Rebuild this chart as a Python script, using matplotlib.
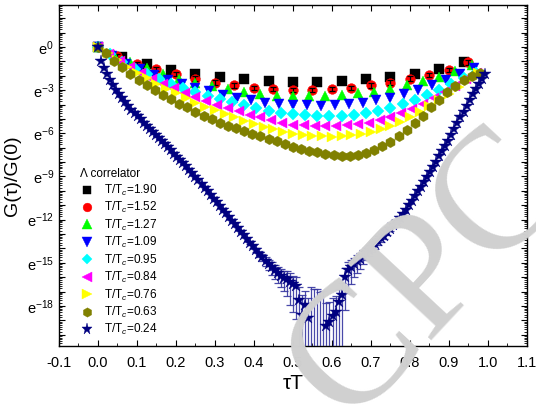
import numpy as np
import matplotlib
matplotlib.use("Agg")
import matplotlib.pyplot as plt

plt.rcParams['font.family'] = ['Liberation Sans', 'DejaVu Sans']
plt.rcParams['mathtext.fontset'] = 'custom'
plt.rcParams['mathtext.rm'] = 'Liberation Sans'
plt.rcParams['mathtext.it'] = 'Liberation Sans:italic'

# ---- data: ln[G(tau)/G(0)] vs tau*T ----
labels = ["T/T$_c$=1.90", "T/T$_c$=1.52", "T/T$_c$=1.27", "T/T$_c$=1.09", "T/T$_c$=0.95",
          "T/T$_c$=0.84", "T/T$_c$=0.76", "T/T$_c$=0.63", "T/T$_c$=0.24"]
ntau = [16, 20, 24, 28, 32, 36, 40, 48, 128]

ln_190 = [0, -0.72, -1.18, -1.58, -1.88, -2.10, -2.26, -2.37, -2.44, -2.43, -2.36, -2.26, -2.08, -1.85, -1.51, -1.06]
ln_152 = [0, -0.65, -1.18, -1.52, -1.86, -2.20, -2.47, -2.67, -2.83, -2.90, -2.97, -2.97, -2.92, -2.83, -2.67,
          -2.47, -2.20, -1.97, -1.61, -1.07]
err_152 = [0, 0.15, 0.15, 0.15, 0.15, 0.15, 0.15, 0.15, 0.15, 0.15, 0.15, 0.15, 0.15, 0.15, 0.15, 0.15, 0.15,
           0.15, 0.15, 0.15]
ln_127 = [0, -0.56, -1.02, -1.47, -1.88, -2.22, -2.49, -2.72, -2.94, -3.12, -3.28, -3.39, -3.44, -3.44, -3.42,
          -3.31, -3.21, -3.10, -2.92, -2.65, -2.36, -2.06, -1.68, -1.23]
ln_109 = [0, -0.60, -1.15, -1.55, -1.92, -2.28, -2.58, -2.82, -3.08, -3.31, -3.52, -3.72, -3.86, -3.96, -4.02,
          -4.06, -4.10, -4.06, -3.99, -3.88, -3.72, -3.54, -3.27, -2.97, -2.65, -2.29, -1.90, -1.45]
ln_095 = [0, -0.50, -1.05, -1.50, -1.90, -2.25, -2.55, -2.85, -3.12, -3.38, -3.62, -3.85, -4.05, -4.25, -4.42,
          -4.56, -4.67, -4.73, -4.78, -4.80, -4.78, -4.73, -4.62, -4.46, -4.23, -3.99, -3.67, -3.33, -2.97,
          -2.58, -2.19, -1.79]
ln_084 = [0, -0.50, -0.97, -1.42, -1.82, -2.20, -2.55, -2.88, -3.18, -3.47, -3.74, -4.00, -4.25, -4.48, -4.70,
          -4.90, -5.08, -5.25, -5.41, -5.45, -5.48, -5.52, -5.48, -5.45, -5.37, -5.25, -5.07, -4.89, -4.62,
          -4.28, -3.94, -3.55, -3.15, -2.70, -2.24, -1.79]
ln_076 = [0, -0.45, -0.92, -1.37, -1.78, -2.17, -2.54, -2.90, -3.23, -3.55, -3.86, -4.14, -4.41, -4.66, -4.90,
          -5.12, -5.33, -5.53, -5.72, -5.89, -6.05, -6.12, -6.18, -6.22, -6.24, -6.20, -6.13, -6.02, -5.88,
          -5.72, -5.52, -5.24, -4.90, -4.50, -4.10, -3.68, -3.24, -2.76, -2.30, -1.80]
ln_063 = [0, -0.45, -0.95, -1.42, -1.86, -2.27, -2.65, -3.00, -3.33, -3.64, -3.93, -4.20, -4.55, -4.80, -5.03,
          -5.25, -5.46, -5.66, -5.85, -6.03, -6.20, -6.37, -6.54, -6.72, -6.92, -7.11, -7.22, -7.33, -7.44,
          -7.51, -7.56, -7.57, -7.48, -7.36, -7.14, -6.90, -6.60, -6.20, -5.80, -5.30, -4.78, -4.20, -3.67,
          -3.12, -2.68, -2.28, -2.02, -1.79]
ln_024 = [0, -0.95, -1.45, -1.90, -2.30, -2.66, -2.99, -3.29, -3.57, -3.84, -4.10, -4.35, -4.59, -4.82, -5.04,
          -5.26, -5.47, -5.69, -5.90, -6.12, -6.33, -6.54, -6.76, -6.97, -7.19, -7.41, -7.62, -7.84, -8.06,
          -8.28, -8.52, -8.77, -9.02, -9.27, -9.52, -9.78, -10.03, -10.28, -10.54, -10.79, -11.05, -11.30,
          -11.56, -11.81, -12.07, -12.32, -12.58, -12.83, -13.09, -13.34, -13.60, -13.85, -14.10, -14.36,
          -14.60, -14.85, -15.10, -15.30, -15.52, -15.70, -15.90, -16.05, -16.10, -16.30, -16.50, -16.60,
          -17.60, -18.60, -17.90, -18.80, -22.00, -22.50, -23.00, -23.00, -22.50, -19.40, -19.10, -18.70,
          -18.40, -17.70, -17.20, -16.00, -15.50, -15.30, -15.10, -14.90, -14.70, -14.50, -14.30, -14.10,
          -13.90, -13.70, -13.50, -13.30, -13.10, -12.87, -12.63, -12.40, -12.13, -11.87, -11.60, -11.30,
          -11.00, -10.70, -10.37, -10.03, -9.70, -9.37, -9.03, -8.70, -8.33, -7.97, -7.60, -7.23, -6.87,
          -6.50, -6.10, -5.70, -5.30, -4.90, -4.50, -4.10, -3.70, -3.30, -2.90, -2.55, -2.20, -1.85]
# relative errors dG/G of the T/Tc=0.24 data, for points 50..100
star_err_first = 50
star_relerr = [0.10, 0.12, 0.15, 0.20, 0.25, 0.30, 0.35, 0.40, 0.45, 0.50, 0.55, 0.60, 0.70, 0.80, 0.85,
               0.90, 1.5, 3.0, 1.5, 3.0, 200, 300, 500, 400, 250, 4.0, 3.0, 2.5, 2.0, 1.5, 1.2, 0.9,
               0.80, 0.70, 0.60, 0.55, 0.50, 0.45, 0.40, 0.35, 0.30, 0.28, 0.25, 0.22, 0.20, 0.18, 0.15,
               0.13, 0.12, 0.10, 0.10]

series = [ln_190, ln_152, ln_127, ln_109, ln_095, ln_084, ln_076, ln_063, ln_024]
colors = ['black', '#ff0000', '#00ff00', '#0000ff', '#00ffff', '#ff00ff', '#ffff00', '#808000', '#000080']
markers = ['s', 'o', '^', 'v', 'D', '<', '>', 'h', '*']
msizes = [6.5, 7, 7.5, 7.5, 6, 7.5, 7.5, 7.5, 9]

yticks_ln = [0, -3, -6, -9, -12, -15, -18]

fig = plt.figure(figsize=(5.36, 4.05), dpi=100)
ax = fig.add_axes([0.110, 0.1457, 0.873, 0.842])

handles = []
for i, (vals, nt) in enumerate(zip(series, ntau)):
    x = np.arange(len(vals)) / nt
    y = np.array(vals)
    if i == 8:
        k = np.arange(star_err_first, star_err_first + len(star_relerr))
        r = np.array(star_relerr)
        up = np.log1p(r)
        lo = np.where(r < 1, -np.log(np.clip(1 - r, 1e-9, None)), 40.0)
        ax.errorbar(x[k], y[k], yerr=[lo, up], fmt='none', ecolor='#3535a0', elinewidth=0.9,
                    capsize=3, capthick=0.9, alpha=0.9, zorder=3 + i * 0.1)
    h, = ax.plot(x, y, ls='none', marker=markers[i], ms=msizes[i], color=colors[i],
                 mec=colors[i], mew=0.3, zorder=3 + i * 0.1 + 0.05, label=labels[i])
    handles.append(h)
    if i == 1:
        ax.errorbar(x, y, yerr=err_152, fmt='none', ecolor='black', elinewidth=0.9, capsize=2.5,
                    capthick=0.9, zorder=3 + i * 0.1 + 0.06)

ax.set_xlim(-0.1, 1.1)
ax.set_ylim(-20.67, 2.49)
ax.set_xticks(np.round(np.arange(-0.1, 1.101, 0.1), 1))
ax.set_xticklabels([f"{v:.1f}" for v in np.arange(-0.1, 1.101, 0.1)])
ax.set_xticks(np.arange(-0.05, 1.1, 0.1), minor=True)
ax.set_yticks(np.arange(-20, 3, 1))
ax.set_yticklabels([f"e$^{{{n}}}$" if n in yticks_ln else "" for n in range(-20, 3)])
minor_y = []
for n in range(-21, 3):
    for m in [1.25, 1.5, 1.75, 2.0, 2.25, 2.5]:
        minor_y.append(n + np.log(m))
ax.set_yticks(minor_y, minor=True)
ax.tick_params(axis='both', which='major', direction='in', length=4, width=0.8, top=True, right=True,
               labelsize=10.5)
ax.tick_params(axis='both', which='minor', direction='in', length=2, width=0.6, top=True, right=True)
ax.tick_params(axis='x', which='major', pad=7)
for s in ax.spines.values():
    s.set_linewidth(1.0)

ax.set_xlabel("τT", fontsize=15, labelpad=3)
ax.set_ylabel("G(τ)/G(0)", fontsize=14, labelpad=4)

leg = ax.legend(handles=handles, title="Λ correlator", loc='upper left', bbox_to_anchor=(0.035, 0.535),
                frameon=False, fontsize=8.5, title_fontsize=8.5, numpoints=1, handlelength=1.2,
                handletextpad=0.8, labelspacing=0.2, borderaxespad=0, markerscale=0.9)
leg._legend_box.align = "left"

fig.text(0.80, 0.32, "CPC", rotation=47, fontsize=125, color='#d0d0d0', family='Liberation Serif',
         ha='center', va='center', zorder=10)

fig.savefig("out.png", dpi=100)
